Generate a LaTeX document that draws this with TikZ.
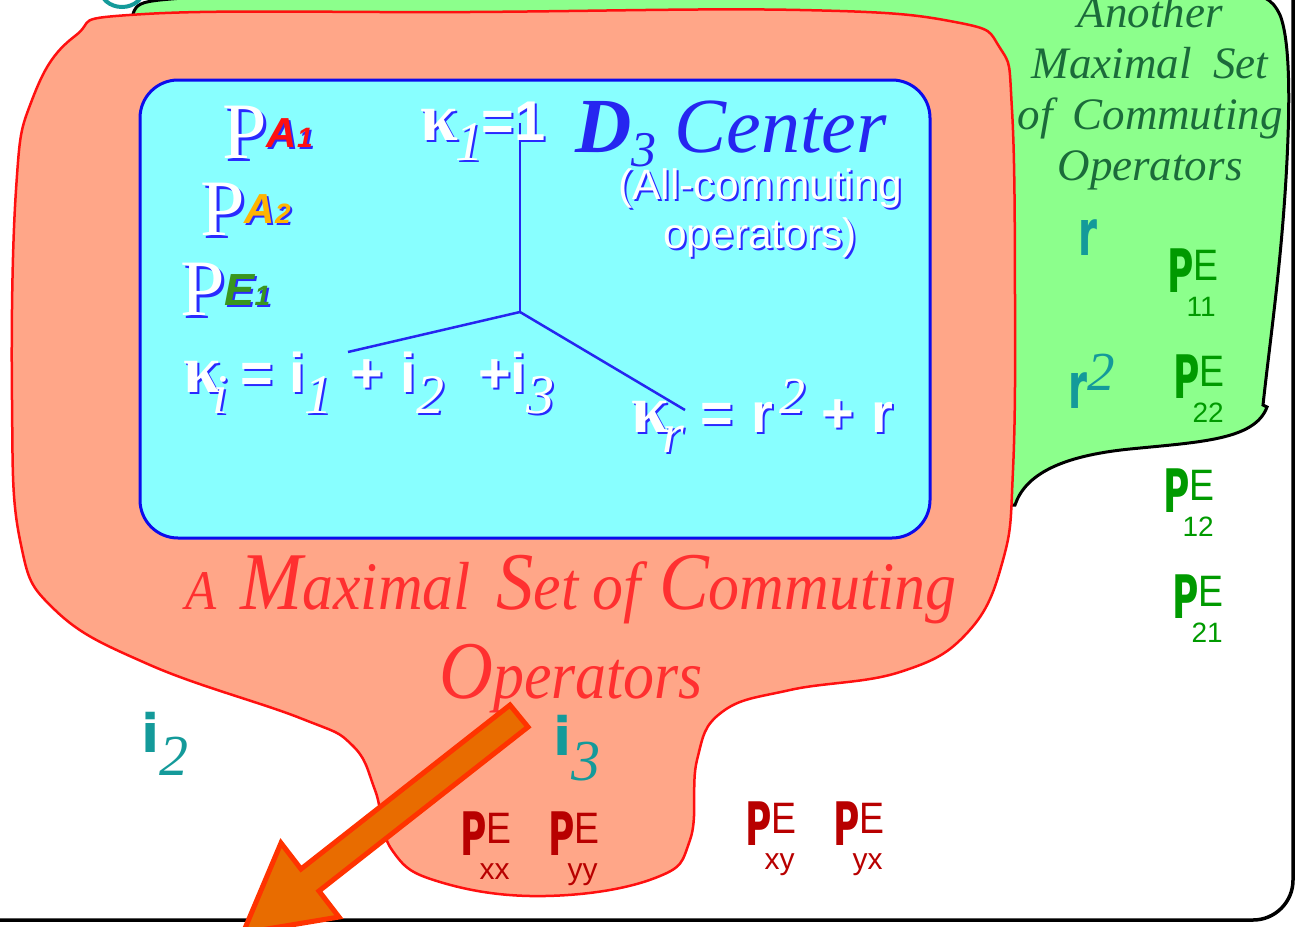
\documentclass[tikz,border=0pt]{standalone}
\usepackage{graphicx}
\usepackage{fontspec}
\setmainfont{Liberation Serif}
\setsansfont{Liberation Sans}
\newfontfamily\heavyfont{DejaVu Sans}
\usetikzlibrary{positioning,calc}
\definecolor{cyanfill}{HTML}{88FFFF}
\definecolor{boxblue}{HTML}{0C0CEC}
\definecolor{salmon}{HTML}{FFA688}
\definecolor{blobred}{HTML}{FF1010}
\definecolor{leaf}{HTML}{8CFF8C}
\definecolor{pine}{HTML}{1B6B3A}
\definecolor{tealtext}{HTML}{149A9A}
\definecolor{projgreen}{HTML}{009A00}
\definecolor{projred}{HTML}{B80000}
\definecolor{titlered}{HTML}{FF3030}
\definecolor{shadowblue}{HTML}{2A2AFF}
\definecolor{arrowfill}{HTML}{E86C00}
\definecolor{arrowedge}{HTML}{FF3300}
\definecolor{ayellow}{HTML}{FFB400}
\definecolor{egreen}{HTML}{3A961E}
\definecolor{dblue}{HTML}{2626F0}
\newcommand\fs[1]{\fontsize{#1}{#1}\selectfont}
\newcommand\shd[2][white]{\makebox[0pt][l]{\kern2pt\raisebox{-2pt}{\color{shadowblue}#2}}{\color{#1}#2}}
\newcommand\bigshd[1]{\makebox[0pt][l]{\kern3pt\raisebox{-3pt}{\color{shadowblue}#1}}{\color{white}#1}}
\newcommand\subi{\rmfamily\itshape\mdseries\fs{56}}
\newcommand\kap{\rmfamily\fs{68}κ}
\newcommand\heavy[2]{{\heavyfont\bfseries\fs{#1}\scalebox{0.6}[1]{#2}}}
\newcommand\proj[2][28]{\heavy{60}{P}\raisebox{12pt}{\sffamily\fs{44}\scalebox{0.85}[1]{E}}\hspace{-32pt}\raisebox{-24pt}{\sffamily\fs{#1}#2}}

\begin{document}
\begin{tikzpicture}[x=1pt, y=-1pt,
  outerframe/.style={draw=black, line width=3.5pt, rounded corners=40pt},
  greenblob/.style={draw=black, line width=3pt, fill=leaf},
  redblob/.style={draw=blobred, line width=2.5pt, fill=salmon},
  centerbox/.style={draw=boxblue, line width=3pt, fill=cyanfill, rounded corners=38pt},
  spoke/.style={draw=dblue, line width=2.5pt},
  lbl/.style={inner sep=0pt, anchor=base west},
  eqn/.style={lbl, text=white, font=\sffamily\bfseries\fs{56}},
  projlbl/.style={lbl, text=projgreen},
  bigarrow/.style={draw=arrowedge, fill=arrowfill, line width=5pt, line join=miter}
]
\useasboundingbox (0,0) rectangle (1300,926);
\draw[outerframe] (-40,-40) rectangle (1293,920);
% another maximal set
\draw[greenblob] (133,40) -- (133,14) .. controls (136,4) and (142,2) .. (160,0)
  .. controls (180,-2) and (200,-3) .. (230,-6) -- (1240,-6)
  .. controls (1262,-6) and (1272,-2) .. (1280,15)
  .. controls (1290,40) and (1290,100) .. (1287,160)
  .. controls (1282,260) and (1270,340) .. (1263,405) -- (1267,407)
  .. controls (1255,440) and (1200,442) .. (1130,449)
  .. controls (1060,456) and (1025,475) .. (1015,505) -- (900,505) -- cycle;
\draw[tealtext, line width=4pt] (122,-12) ellipse [x radius=22pt, y radius=19pt];
% the maximal set
\draw[redblob] plot[smooth cycle, tension=0.7] coordinates {
  (145,14) (470,12) (800,10) (955,22) (1000,48) (1012,110) (1015,300)
  (1013,470) (1003,560) (968,632) (900,672) (790,690) (722,712) (697,760)
  (690,840) (655,878) (545,896) (440,882) (392,850) (375,790) (352,745)
  (300,718) (150,665) (55,610) (20,540) (12,400) (16,190) (32,100) (75,36)};
% center
\draw[centerbox] (140,80) rectangle (930,538);
\coordinate (hub) at (520,312);
\coordinate (kone) at (520,123);
\coordinate (kinv) at (348,352);
\coordinate (krot) at (685,410);
\draw[spoke] (hub) -- (kone);
\draw[spoke] (hub) -- (kinv);
\draw[spoke] (hub) -- (krot);

\node[lbl] (pA1) at (222,158) {\bigshd{\rmfamily\fs{80}P}\raisebox{11pt}{\shd[blobred]{\sffamily\bfseries\itshape\fs{42}A\fs{28}1}}};
\node[lbl] (pA2) at (200,235) {\bigshd{\rmfamily\fs{80}P}\raisebox{12pt}{\shd[ayellow]{\sffamily\bfseries\itshape\fs{42}A\fs{28}2}}};
\node[lbl] (pE1) at (180,315) {\bigshd{\rmfamily\fs{80}P}\raisebox{10pt}{\shd[egreen]{\sffamily\bfseries\itshape\fs{45}E\fs{28}1}}};
\node[eqn] (kappa1) at (420,140) {\shd{\kap}\hspace{-2pt}\raisebox{-20pt}{\shd{\subi 1}}\hspace{-2pt}\shd{=1}};
\node[lbl, text=dblue, font=\rmfamily\itshape\fs{78}] (dcenter) at (575,152)
  {{\bfseries D}\raisebox{-14pt}{\fs{50}3}\hspace{18pt}Center};
\node[align=center, inner sep=0pt, text=white, font=\sffamily\fontsize{42.5}{49}\selectfont] (allcomm) at (760,214)
  {\shd{(All-commuting}\\\shd{operators)}};
\node[eqn] (kappai) at (183,392) {\shd{\kap}\hspace{-8pt}\raisebox{-21pt}{\shd{\subi i}}\hspace{12pt}\shd{=}\hspace{16pt}\shd{i}\raisebox{-21pt}{\shd{\subi 1}}\hspace{18pt}\shd{+}\hspace{17pt}\shd{i}\raisebox{-21pt}{\shd{\subi 2}}\hspace{34pt}\shd{+i}\raisebox{-21pt}{\shd{\subi 3}}};
\node[eqn] (kappar) at (631,432) {\shd{\kap}\hspace{-6pt}\raisebox{-20pt}{\shd{\subi r}}\hspace{16pt}\shd{=}\hspace{18pt}\shd{r}\hspace{6pt}\raisebox{19pt}{\shd{\rmfamily\itshape\mdseries\fs{52}2}}\hspace{16pt}\shd{+}\hspace{18pt}\shd{r}};

\node[align=center, inner sep=0pt, text=titlered, font=\rmfamily\itshape\fontsize{68}{89}\selectfont] (maxset) at (571,634)
  {\scalebox{0.91}[1]{{\fs{56}A}\hspace{26pt}{\fs{82}M}aximal\hspace{28pt}{\fs{82}S}et\hspace{16pt}of\hspace{20pt}{\fs{82}C}ommuting}\\
   \scalebox{0.91}[1]{{\fs{82}O}perators}};

\node[align=center, inner sep=0pt, text=pine, font=\rmfamily\itshape\fontsize{45}{51}\selectfont] (another) at (1150,93)
  {Another\\Maximal\hspace{22pt}Set\\of\hspace{20pt}Commuting\\Operators};

\node[lbl, text=tealtext] (rone) at (1078,255) {\heavy{64}{r}};
\node[lbl, text=tealtext] (rtwo) at (1068,408) {\heavy{64}{r}\raisebox{18pt}{\rmfamily\itshape\fs{55}2}};
\node[lbl, text=tealtext] (itwo) at (141,752) {{\heavyfont\bfseries\fs{53}i}\raisebox{-23pt}{\rmfamily\itshape\fs{58}2}};
\node[lbl, text=tealtext] (ithree) at (553,755) {{\heavyfont\bfseries\fs{53}i}\raisebox{-25pt}{\rmfamily\itshape\fs{58}3}};

\node[projlbl] (pe11) at (1167,292) {\proj{11}};
\node[projlbl] (pe22) at (1173,398) {\proj{22}};
\node[projlbl] (pe12) at (1163,512) {\proj{12}};
\node[projlbl] (pe21) at (1172,618) {\proj{21}};
\node[projlbl, text=projred] (pexx) at (460,855) {\proj[30]{xx}};
\node[projlbl, text=projred] (peyy) at (548,855) {\proj[30]{yy}};
\node[projlbl, text=projred] (pexy) at (745,845) {\proj[30]{xy}};
\node[projlbl, text=projred] (peyx) at (833,845) {\proj[30]{yx}};

% big arrow out of the picture
\draw[bigarrow] (510,705) -- (528,727) -- (319,891) -- (339,917) -- (243,933)
  -- (281,843) -- (301,869) -- cycle;
\end{tikzpicture}
\end{document}
